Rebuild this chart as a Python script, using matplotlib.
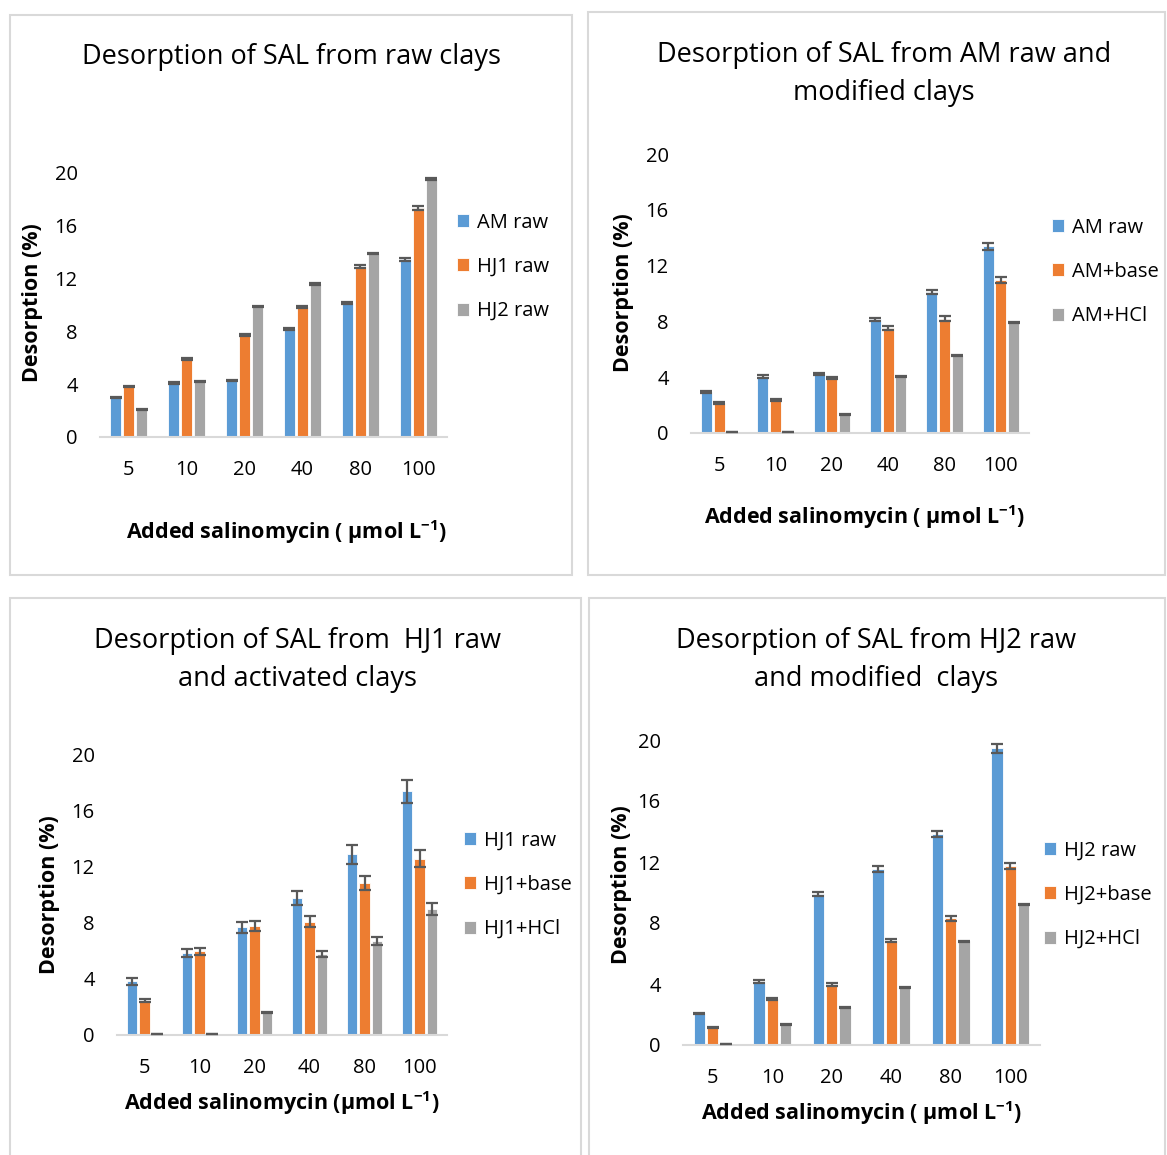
import matplotlib

matplotlib.use("Agg")
import matplotlib.pyplot as plt
import numpy as np
from matplotlib.patches import Rectangle

W, H = 1167, 1155

concentrations = ["5", "10", "20", "40", "80", "100"]

# panel 1: raw clays
p1_labels = ["AM raw", "HJ1 raw", "HJ2 raw"]
p1_am_raw = [3.0, 4.1, 4.3, 8.2, 10.15, 13.45]
p1_hj1_raw = [3.85, 5.9, 7.7, 9.85, 12.9, 17.35]
p1_hj2_raw = [2.1, 4.2, 9.9, 11.6, 13.9, 19.55]
p1_am_raw_err = [0.05, 0.05, 0.05, 0.08, 0.1, 0.12]
p1_hj1_raw_err = [0.05, 0.08, 0.08, 0.1, 0.12, 0.15]
p1_hj2_raw_err = [0.03, 0.03, 0.05, 0.05, 0.05, 0.05]

# panel 2: AM raw and modified
p2_labels = ["AM raw", "AM+base", "AM+HCl"]
p2_am_raw = [2.95, 4.05, 4.25, 8.15, 10.1, 13.4]
p2_am_base = [2.15, 2.35, 3.95, 7.55, 8.2, 10.95]
p2_am_hcl = [0.05, 0.05, 1.3, 4.05, 5.55, 7.9]
p2_am_raw_err = [0.05, 0.08, 0.08, 0.12, 0.15, 0.25]
p2_am_base_err = [0.05, 0.06, 0.1, 0.15, 0.18, 0.2]
p2_am_hcl_err = [0.0, 0.0, 0.03, 0.03, 0.03, 0.03]

# panel 3: HJ1 raw and activated
p3_labels = ["HJ1 raw", "HJ1+base", "HJ1+HCl"]
p3_hj1_raw = [3.85, 5.85, 7.7, 9.8, 12.9, 17.4]
p3_hj1_base = [2.45, 6.0, 7.8, 8.1, 10.85, 12.6]
p3_hj1_hcl = [0.05, 0.05, 1.6, 5.8, 6.7, 9.0]
p3_hj1_raw_err = [0.25, 0.3, 0.4, 0.5, 0.65, 0.8]
p3_hj1_base_err = [0.1, 0.25, 0.35, 0.4, 0.5, 0.6]
p3_hj1_hcl_err = [0.0, 0.0, 0.05, 0.2, 0.3, 0.4]

# panel 4: HJ2 raw and modified
p4_labels = ["HJ2 raw", "HJ2+base", "HJ2+HCl"]
p4_hj2_raw = [2.08, 4.15, 9.9, 11.55, 13.85, 19.45]
p4_hj2_base = [1.15, 3.0, 3.95, 6.85, 8.3, 11.75]
p4_hj2_hcl = [0.05, 1.35, 2.47, 3.8, 6.8, 9.2]
p4_hj2_raw_err = [0.05, 0.08, 0.15, 0.2, 0.2, 0.3]
p4_hj2_base_err = [0.05, 0.05, 0.1, 0.12, 0.15, 0.2]
p4_hj2_hcl_err = [0.0, 0.05, 0.05, 0.03, 0.05, 0.05]

COLORS = ["#5B9BD5", "#ED7D31", "#A5A5A5"]
GRID = "#D9D9D9"
FONT = ["Open Sans", "DejaVu Sans"]

plt.rcParams["font.family"] = FONT
plt.rcParams["text.color"] = "#000000"
plt.rcParams["mathtext.fontset"] = "custom"
plt.rcParams["mathtext.rm"] = "Open Sans"
plt.rcParams["mathtext.bf"] = "Open Sans:bold"


def fx(x):
    return x / W


def fy(y):
    return 1 - y / H


def draw_panel(fig, box, ax_box, title, title_xy, xlabel, xlabel_xy, ylabel_xy,
               legend_xy, labels, series, errors):
    bx0, by0, bx1, by1 = box
    fig.patches.append(Rectangle((fx(bx0), fy(by1)), fx(bx1 - bx0), (by1 - by0) / H,
                                 transform=fig.transFigure, fill=False,
                                 edgecolor=GRID, lw=1.5, zorder=0))
    x0, x1, ytop, ybot = ax_box
    ax = fig.add_axes([fx(x0), fy(ybot), fx(x1 - x0), (ybot - ytop) / H])
    pos = np.arange(len(concentrations))
    width = 0.19
    offs = [-0.225, 0.0, 0.225]
    for vals, errs, color, label, off in zip(series, errors, COLORS, labels, offs):
        ax.bar(pos + off, vals, width=width, color=color, edgecolor="white",
               linewidth=0.6, label=label, zorder=2)
        ax.errorbar(pos + off, vals, yerr=errs, fmt="none", ecolor="#595959",
                    elinewidth=1.6, capsize=4, capthick=1.6, zorder=3, clip_on=False)
    ax.set_xlim(-0.5, len(concentrations) - 0.5)
    ax.set_ylim(0, 20)
    ax.set_yticks([0, 4, 8, 12, 16, 20])
    ax.set_xticks(pos)
    ax.set_xticklabels(concentrations)
    ax.tick_params(axis="both", length=0, labelsize=14.5, colors="#000000")
    ax.tick_params(axis="y", pad=16)
    ax.tick_params(axis="x", pad=16.5)
    for side in ["top", "right", "left"]:
        ax.spines[side].set_visible(False)
    ax.spines["bottom"].set_color(GRID)
    ax.spines["bottom"].set_linewidth(1.5)
    ax.patch.set_alpha(0)

    fig.text(fx(title_xy[0]), fy(title_xy[1]), title, ha="center", va="center",
             fontsize=19.5, linespacing=1.45)
    fig.text(fx(xlabel_xy[0]), fy(xlabel_xy[1]), xlabel, ha="center", va="center",
             fontsize=15.5, fontweight="bold")
    fig.text(fx(ylabel_xy[0]), fy(ylabel_xy[1]), "Desorption (%)", ha="center",
             va="center", rotation=90, fontsize=15.5, fontweight="bold")
    ax.legend(loc="center left", bbox_to_anchor=(fx(legend_xy[0]), fy(legend_xy[1])),
              bbox_transform=fig.transFigure, frameon=False, fontsize=14.5,
              handlelength=0.62, handleheight=0.62, handletextpad=0.35,
              labelspacing=1.2, borderpad=0, borderaxespad=0)
    return ax


fig = plt.figure(figsize=(W / 100, H / 100), dpi=100)

xl = r"Added salinomycin ( μmol L$^{\mathbf{-1}}$)"
xl3 = r"Added salinomycin (μmol L$^{\mathbf{-1}}$)"

draw_panel(fig, (10, 15, 572, 575), (100, 447, 173, 437),
           "Desorption of SAL from raw clays", (291, 57),
           xl, (286, 532), (33, 303), (457, 267),
           p1_labels, [p1_am_raw, p1_hj1_raw, p1_hj2_raw],
           [p1_am_raw_err, p1_hj1_raw_err, p1_hj2_raw_err])

draw_panel(fig, (588, 12, 1165, 575), (691, 1029, 154, 433),
           "Desorption of SAL from AM raw and\nmodified clays", (884, 74),
           xl, (864, 517), (624, 293), (1052, 272),
           p2_labels, [p2_am_raw, p2_am_base, p2_am_hcl],
           [p2_am_raw_err, p2_am_base_err, p2_am_hcl_err])

draw_panel(fig, (10, 598, 581, 1160), (117, 447, 755, 1035),
           "Desorption of SAL from  HJ1 raw\nand activated clays", (298, 660),
           xl3, (282, 1103), (50, 895), (464, 885),
           p3_labels, [p3_hj1_raw, p3_hj1_base, p3_hj1_hcl],
           [p3_hj1_raw_err, p3_hj1_base_err, p3_hj1_hcl_err])

draw_panel(fig, (589, 598, 1165, 1160), (683, 1040, 740, 1045),
           "Desorption of SAL from HJ2 raw\nand modified  clays", (876, 660),
           xl, (861, 1113), (622, 885), (1044, 895),
           p4_labels, [p4_hj2_raw, p4_hj2_base, p4_hj2_hcl],
           [p4_hj2_raw_err, p4_hj2_base_err, p4_hj2_hcl_err])

fig.savefig("out.png", dpi=100, facecolor="white")
